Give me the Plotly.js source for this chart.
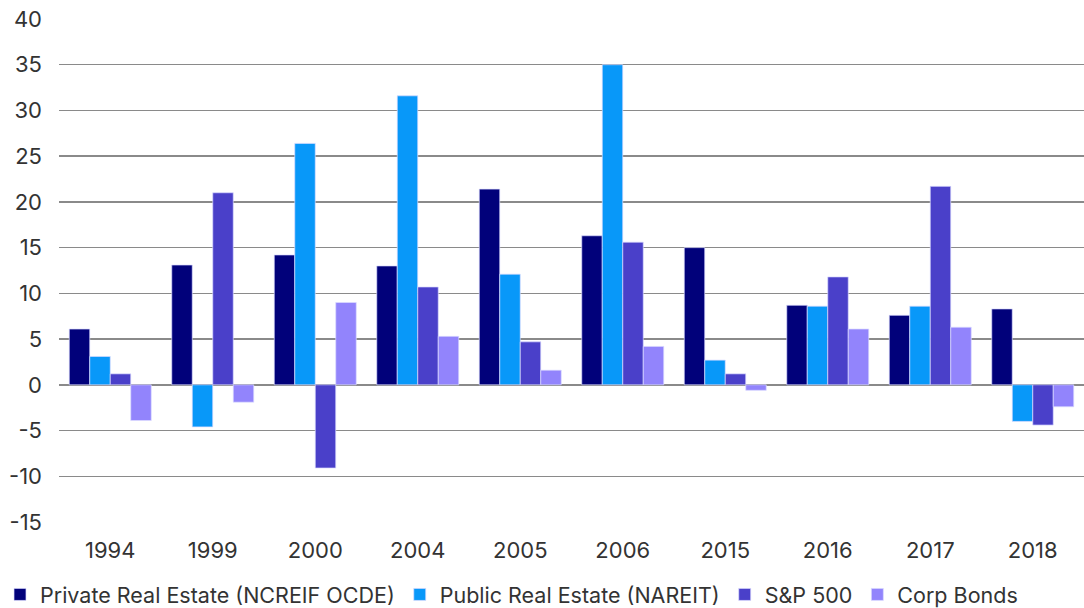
<!DOCTYPE html>
<html>
<head>
<meta charset="utf-8">
<script src="https://cdn.plot.ly/plotly-3.0.1.min.js"></script>
<style>html,body{margin:0;padding:0;background:#fff;}#chart{width:1084px;height:608px;}</style>
</head>
<body>
<div id="chart"></div>
<script>
const years = ["1994","1999","2000","2004","2005","2006","2015","2016","2017","2018"];
const privateRE = [6.1, 13.1, 14.2, 13.0, 21.4, 16.3, 15.0, 8.7, 7.6, 8.3];
const publicRE  = [3.1, -4.6, 26.4, 31.6, 12.1, 35.0, 2.7, 8.6, 8.6, -4.0];
const sp500     = [1.2, 21.0, -9.1, 10.7, 4.7, 15.6, 1.2, 11.8, 21.7, -4.4];
const corpBonds = [-3.9, -1.9, 9.0, 5.3, 1.6, 4.2, -0.6, 6.1, 6.3, -2.4];
const seriesNames = ["Private Real Estate (NCREIF OCDE)", "Public Real Estate (NAREIT)", "S&P 500", "Corp Bonds"];
const yTicks = [-15,-10,-5,0,5,10,15,20,25,30,35,40];

const colors = ["#01017A", "#0898F9", "#4A40C9", "#9284FC"];
const allVals = [privateRE, publicRE, sp500, corpBonds];
const traces = allVals.map((v, i) => ({
  type: 'bar',
  x: years,
  y: v,
  name: seriesNames[i],
  marker: {color: colors[i], line: {color: 'rgba(220,220,255,0.7)', width: 1}},
  hoverinfo: 'x+y+name'
}));

const font = "Inter, 'Open Sans', sans-serif";
const layout = {
  width: 1084, height: 608,
  margin: {l: 59, r: 0, t: 19, b: 86},
  paper_bgcolor: '#fff', plot_bgcolor: '#fff',
  barmode: 'group',
  bargap: 0.2,
  bargroupgap: 0,
  font: {family: font, size: 21, color: '#333'},
  xaxis: {
    type: 'category',
    showgrid: false, showline: false, zeroline: false,
    ticks: '', tickfont: {size: 22, color: '#333', family: font},
    ticklabelstandoff: 13
  },
  yaxis: {
    range: [-15, 40],
    tickvals: yTicks,
    ticktext: yTicks.map(String),
    showgrid: true, gridcolor: '#8a8a8a', gridwidth: 1.5,
    zeroline: true, zerolinecolor: '#8a8a8a', zerolinewidth: 1.5,
    showline: false, ticks: '',
    tickfont: {size: 22, color: '#333', family: font},
    ticklabelstandoff: 16
  },
  showlegend: true,
  legend: {
    orientation: 'h',
    xref: 'container', yref: 'container',
    x: 0.0, xanchor: 'left',
    y: 0.056, yanchor: 'top',
    font: {size: 21.5, color: '#333', family: font},
    itemwidth: 30,
    tracegroupgap: 0
  }
};

Plotly.newPlot('chart', traces, layout, {displayModeBar: false, staticPlot: true});
</script>
</body>
</html>
